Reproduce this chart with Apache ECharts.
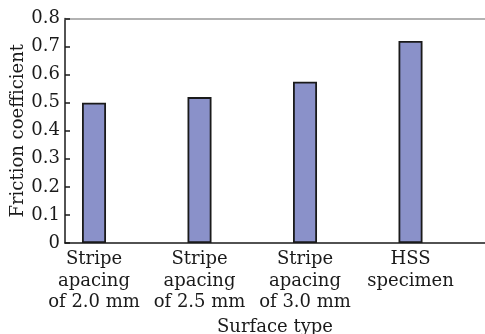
<!DOCTYPE html>
<html>
<head>
<meta charset="utf-8">
<script src="https://cdn.jsdelivr.net/npm/echarts@6/dist/echarts.min.js"></script>
<style>html,body{margin:0;padding:0;background:#fff}#c{width:485px;height:334px}</style>
</head>
<body>
<div id="c"></div>
<script>
const categories = ['Stripe\napacing\nof 2.0 mm', 'Stripe\napacing\nof 2.5 mm', 'Stripe\napacing\nof 3.0 mm', 'HSS\nspecimen'];
const frictionValues = [0.50, 0.52, 0.575, 0.72];
const yTicks = [0, 0.1, 0.2, 0.3, 0.4, 0.5, 0.6, 0.7, 0.8];
const catPositions = [0, 1, 2, 3];

const font = 'DejaVu Serif';
const chart = echarts.init(document.getElementById('c'), null, {renderer: 'canvas'});
chart.setOption({
  animation: false,
  grid: {left: 65, right: 0, top: 18.5, bottom: 91, containLabel: false, outerBoundsMode: 'none'},
  xAxis: [{
    type: 'value', min: -0.275, max: 3.706,
    name: 'Surface type', nameLocation: 'middle', nameGap: 75, nameMoveOverlap: false,
    nameTextStyle: {fontFamily: font, fontSize: 18, color: '#1a1a1a'},
    axisLine: {show: true, onZero: false, lineStyle: {color: '#1a1a1a', width: 1.5}},
    axisTick: {show: false},
    splitLine: {show: false},
    axisLabel: {
      customValues: catPositions,
      formatter: v => categories[Math.round(v)] || '',
      fontFamily: font, fontSize: 18, color: '#1a1a1a', lineHeight: 21.5, margin: 6
    }
  }, {
    type: 'value', min: -0.275, max: 3.706, position: 'top',
    axisLine: {show: true, onZero: false, lineStyle: {color: '#999', width: 1.5}},
    axisTick: {show: false}, axisLabel: {show: false}, splitLine: {show: false}
  }],
  yAxis: {
    type: 'value', min: 0, max: 0.8, interval: 0.1,
    name: 'Friction coefficient', nameLocation: 'middle', nameGap: 38, nameMoveOverlap: false,
    nameTextStyle: {fontFamily: font, fontSize: 18, color: '#1a1a1a'},
    axisLine: {show: true, onZero: false, lineStyle: {color: '#1a1a1a', width: 1.5}},
    axisTick: {show: true, inside: true, length: 5, lineStyle: {color: '#1a1a1a', width: 1.5}},
    splitLine: {show: false},
    axisLabel: {
      fontFamily: font, fontSize: 18, color: '#1a1a1a', margin: 5,
      formatter: v => { const t = yTicks.find(x => Math.abs(x - v) < 1e-6); return t === undefined ? '' : String(t); }
    }
  },
  series: [{
    type: 'bar',
    barWidth: 24,
    data: frictionValues.map((v, i) => [catPositions[i], v]),
    itemStyle: {color: '#8a91c9', borderColor: '#1a1a1a', borderWidth: 1.8}
  }]
});
</script>
</body>
</html>
